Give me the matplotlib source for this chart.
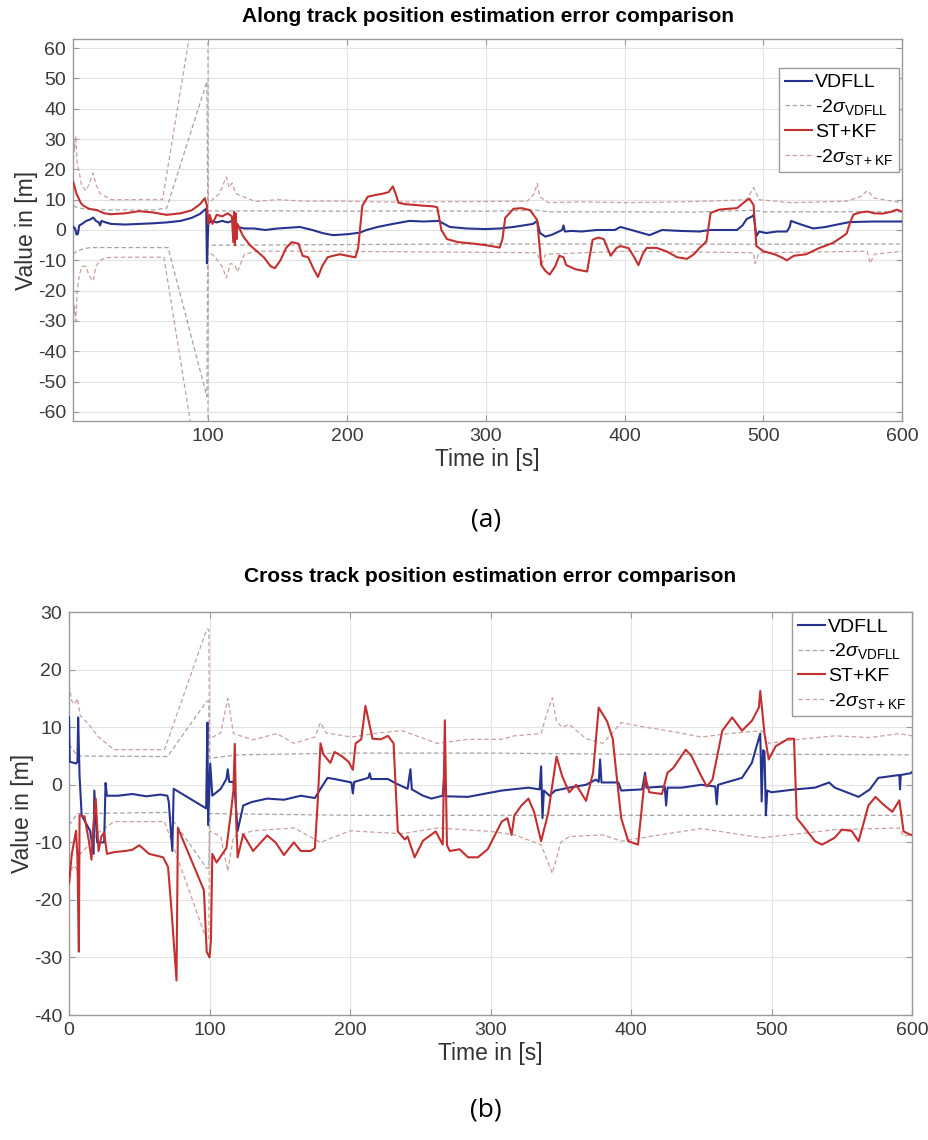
import matplotlib

matplotlib.use("Agg")
import matplotlib.pyplot as plt

# ---- Along track (a) ----
along_vdfll_t = [2.7, 4, 5, 6, 7, 9, 12, 15, 17, 19, 21, 22, 23, 26, 30, 40, 50, 60, 70, 80, 88, 94, 97, 98.5, 99, 100, 102, 106, 110, 114, 117, 121, 126, 133, 141, 150, 160, 166, 175, 183, 190, 200, 209, 214, 222, 233, 245, 255, 266, 270, 274, 286, 300, 310, 320, 334, 337, 339, 343, 348, 355, 356, 357, 362, 369, 380, 393, 397, 405, 418, 427, 440, 454, 461, 470, 481, 485, 488, 492, 493, 495, 497, 502, 510, 517, 519, 520, 526, 536, 545, 550, 562, 570, 580, 590, 600]
along_vdfll_v = [1, 0.5, -1.5, -1.3, 1.5, 2, 3, 3.5, 4.1, 3, 2.5, 1.5, 3, 2.5, 2, 1.8, 2, 2.2, 2.5, 3, 4, 5.3, 6.5, 7, -11, 2, 3, 2.5, 3, 2.5, 3, 1, 0.5, 0.5, 0, 0.5, 0.8, 1, 0, -1.1, -1.7, -1.4, -0.9, 0, 1, 2, 3, 2.8, 3, 2, 1, 0.5, 0.3, 0.5, 1, 2, 3, -1, -2.2, -1.5, 0, 1.5, -0.5, -0.3, -0.5, 0, 0, 1, 0, -1.7, 0, -0.3, -0.5, 0, 0, 0, 1.5, 3.6, 4.5, 5, -2, -0.5, -1, -0.5, -0.5, 1, 3, 2, 0.5, 1, 1.5, 2.6, 2.7, 2.8, 2.8, 2.8]

along_stkf_t = [2.7, 5, 8, 10, 14, 20, 25, 30, 40, 50, 60, 70, 80, 88, 94, 97.5, 99, 100, 101, 103, 106, 110, 114, 117, 118, 118.6, 119.2, 119.8, 120.4, 121, 125, 130, 135, 140, 145, 148, 152, 156, 160, 165, 168, 172, 176, 179, 182, 186, 190, 195, 200, 206, 208, 211, 215, 220, 226, 230, 233, 235, 237, 242, 248, 255, 262, 265, 268, 272, 280, 291, 300, 310, 312, 314, 320, 326, 332, 337, 340, 343, 346, 350, 353, 356, 358, 365, 373, 377, 381, 385, 390, 394, 397, 403, 407, 410, 413, 416, 423, 430, 438, 445, 450, 454, 459, 462, 468, 475, 481, 488, 490, 493, 495, 500, 508, 513, 517, 522, 531, 540, 550, 556, 560, 563, 565, 570, 575, 580, 586, 592, 596, 600]
along_stkf_v = [15.7, 12, 9, 8, 7, 6.5, 5.5, 5.2, 5.5, 6.2, 5.8, 5, 5.5, 6.5, 8.5, 10.5, 8, 2, 5, 2, 5, 4.5, 5.5, 4.5, -4, 6, -5, 5.5, -3, 2, -2, -5, -7, -9, -12, -12.6, -10, -6, -4, -4.5, -8.5, -9, -13, -15.5, -12, -9, -8.5, -8, -8.5, -9, -6, 8, 11, 11.5, 12, 12.5, 14.4, 12, 9, 8.5, 8.3, 8, 7.8, 7.5, 0, -3, -4, -4.5, -5, -5.8, -3, 4, 7, 7.2, 6.5, 3.3, -11.6, -13.5, -14.7, -12, -8.5, -9, -11.6, -13, -13.7, -3.2, -2.5, -3, -8.5, -6, -5.3, -6, -9, -11.6, -8, -5.9, -5.9, -7, -9, -9.5, -8, -5.9, -3.8, 5.6, 6.7, 7, 7.2, 9.8, 10.3, 8.2, -5.3, -7, -8, -9, -10, -8.5, -8, -6, -4.3, -2.5, -1.2, 3, 5.1, 5.8, 6.1, 5.5, 5.4, 6, 6.7, 6.1]

along_sig_vdfll_up_t = [2.7, 5, 10, 20, 40, 60, 70, 99, 99.6, 120, 150, 200, 250, 300, 337, 345, 400, 450, 493, 500, 550, 600]
along_sig_vdfll_up_v = [8, 7.5, 7, 6.7, 6.6, 6.6, 7.2, 49, 6.3, 6.3, 6.3, 6.2, 6.3, 6.2, 6.5, 6, 6, 5.9, 6.5, 6, 6, 6]
along_sig_vdfll_lo_t = [2.7, 5, 10, 15, 40, 71, 99, 99.6, 120, 200, 300, 400, 500, 600]
along_sig_vdfll_lo_v = [-8, -7, -6.2, -5.8, -5.8, -5.8, -55, -5, -5, -4.8, -4.6, -4.6, -4.7, -4.6]

along_sig_stkf_up_t = [2.7, 3.5, 4.5, 5.5, 7, 8.5, 10, 12, 14, 17, 19, 22, 26, 30, 50, 67, 86, 99.5, 100, 103, 108, 113, 115, 117, 120, 125, 134, 150, 170, 200, 230, 260, 300, 330, 335, 337, 339, 345, 370, 400, 430, 460, 488, 493, 497, 520, 560, 570, 575, 580, 600]
along_sig_stkf_up_v = [32, 26, 31, 22, 19, 15, 14, 13, 15, 18.8, 15, 12, 11, 10, 10, 10, 63, 115, 9, 10, 12, 17.5, 14, 15.5, 12, 11, 9.4, 10, 9.5, 9.5, 9.2, 9.3, 9.4, 9.5, 12, 15.3, 11, 9, 9.3, 9, 9.2, 9.5, 10, 14, 10, 9, 9.5, 11, 13, 10.5, 9]
along_sig_stkf_lo_t = [2.7, 3.5, 4.5, 5.5, 7, 9, 12, 14, 17, 19, 22, 26, 30, 60, 68, 87, 99.5, 100, 105, 110, 113, 116, 119, 121, 126, 135, 170, 250, 337, 340, 343, 400, 493, 494, 497, 575, 577, 580, 600]
along_sig_stkf_lo_v = [-30, -25, -30, -20, -15, -12, -12, -15, -16.8, -12, -10, -9.2, -9, -9, -9, -63, -115, -7, -9, -12, -15.8, -11, -11.6, -13.8, -8, -7, -7, -7.2, -7.5, -12, -8, -7, -7.5, -11, -7.5, -7, -11, -8, -7]

# ---- Cross track (b) ----
cross_vdfll_t = [0, 0.5, 5, 6, 6.5, 7.5, 9, 15, 17.5, 18, 20, 25, 26, 27, 35, 45, 55, 65, 70, 71, 73.5, 74.5, 97.6, 98.5, 99, 100.5, 102, 108, 112, 113, 114, 117, 118, 120, 124, 130, 141, 153, 165, 175, 179, 184, 189, 201, 202, 203, 213, 214, 215, 227, 233, 241, 243, 244, 252, 258, 266, 267, 268, 284, 308, 327, 335, 336, 337, 338, 342, 346, 356, 368, 375, 377, 378, 379, 391, 393, 408, 410, 411, 424, 425, 426, 436, 450, 460, 461, 462, 469, 479, 486, 492, 493, 494, 495, 496, 497, 500, 517, 531, 541, 545, 562, 570, 576, 591, 591.5, 592, 599, 600]
cross_vdfll_v = [11.7, 4, 3.7, 4, 11.7, 1.5, -5.3, -8, -12, -1, -10, -10, 0.3, -1.9, -1.9, -1.6, -2, -1.7, -1.9, -3, -11.5, -0.7, -4.1, 10.8, -7, 3.7, -1.9, -0.7, 1, 2.7, 0.5, 0.5, -1, -8, -3.6, -3, -2.4, -2.6, -1.9, -2.3, -0.7, 1.2, 1, 0.4, -1.5, 0.5, 1.2, 2, 1, 1, 0.2, -0.7, 2.7, -0.8, -1.9, -2.4, -1.9, 1.5, -2, -2.1, -1, -0.5, -0.8, 3.2, -5.8, -1, -1.9, -1, -0.5, 0, 0.9, 0.5, 4.4, 0.4, 0.4, -1, -0.8, 2.1, -0.5, -0.3, -3.6, -0.5, -0.5, 0, -0.3, -3.4, 0, 0.5, 1.2, 3.8, 8.9, -2.9, 6, 5.8, -5.3, -1, -1.3, -0.8, -0.5, 0.4, -0.5, -2.1, -0.8, 1.2, 1.7, -0.8, 1.7, 2, 2.2]

cross_stkf_t = [0, 2, 5, 6, 7, 7.5, 11, 14, 16, 17, 19, 21, 23, 25, 27, 32, 40, 45, 50, 57, 67, 70.5, 73, 76.5, 77.5, 96, 98, 100, 101, 102, 105, 112, 115, 117, 118, 119, 120, 124, 131, 141, 147, 153, 160, 165, 172, 175, 177, 179, 181, 186, 189, 194, 199, 202, 204, 208, 211, 216, 222, 227, 231, 234, 239, 241, 246, 252, 261, 266, 267.5, 269, 271, 278, 284, 291, 298, 308, 312, 315, 317, 322, 327, 331, 336, 341, 347, 351, 356, 361, 368, 373, 377, 383, 387, 390, 393, 398, 405, 410, 413, 422, 426, 430, 439, 443, 450, 454, 458, 465, 472, 479, 486, 491, 492, 495, 498, 503, 512, 516, 518, 522, 531, 536, 545, 550, 557, 562, 569, 574, 579, 586, 591, 594, 599, 600]
cross_stkf_v = [-17.1, -12, -8, -12.7, -29, -5.3, -5.5, -9.6, -13, -8, -2.4, -11.5, -9, -8.3, -12, -11.7, -11.5, -11.3, -10.5, -12, -12.6, -14.3, -22, -34, -7.5, -18.3, -29, -30, -27, -12, -13.5, -11, -5.3, -1, 7.1, -6.5, -12.6, -8.6, -11.5, -8.8, -10, -12.2, -10, -11.5, -11.5, -11, -3, 7.2, 5.3, 3.8, 5.7, 5, 4, 2.6, 7.2, 7.9, 13.7, 8, 7.9, 8.5, 7.2, -8.1, -9.5, -9, -12.6, -9.7, -8.1, -10.4, 11.2, -10.5, -11.5, -11.2, -12.6, -12.6, -11.2, -6.4, -5.8, -8.7, -5.3, -3.6, -2.4, -4.7, -9.8, -5, 4.9, 1.5, -1.3, 0, -2.8, 2.1, 13.4, 11, 8, 1, -5.8, -9.8, -10.4, 1.5, -1.3, -1.6, 2.1, 2.9, 6.1, 5, 1.5, -0.3, 0.9, 9.4, 11.7, 9.4, 11.1, 13.4, 16.3, 8.9, 4.4, 6.7, 8, 8, -5.8, -7, -9.8, -10.4, -9.2, -7.8, -8, -9.8, -3.6, -2.1, -3.3, -4.7, -2.7, -8.1, -8.7, -8.7]

cross_sig_vdfll_up_t = [0, 6, 70, 98, 99.5, 100, 120, 200, 300, 400, 500, 600]
cross_sig_vdfll_up_v = [7, 5, 4.9, 14.5, 14.5, 4.6, 5.2, 5.5, 5.5, 5.3, 5.3, 5.2]
cross_sig_vdfll_lo_t = [0, 6, 70, 98, 99.5, 100, 200, 300, 400, 500, 600]
cross_sig_vdfll_lo_v = [-7, -5, -4.8, -14.5, -14.5, -5, -5.3, -5.3, -5.3, -5.3, -5.3]

cross_sig_stkf_up_t = [0, 2, 4, 6, 8, 14, 21, 32, 68, 98, 99.5, 100, 108, 113, 117, 131, 148, 160, 175, 179, 183, 201, 220, 237, 262, 284, 308, 317, 336, 340, 344, 347, 351, 356, 368, 380, 393, 410, 426, 450, 470, 493, 498, 520, 545, 570, 591, 600]
cross_sig_stkf_up_v = [17.3, 14.5, 14, 15, 12, 10.5, 8.3, 6.1, 6.1, 27, 27, 8, 9, 15, 8.9, 7.8, 8.9, 7.2, 8.3, 10.8, 9, 8.3, 9, 9.4, 7.2, 7.9, 7.9, 8.5, 8.9, 12.3, 15.1, 11, 10, 10.5, 8, 7.2, 10.8, 10, 9.4, 8.3, 8.9, 9.4, 7.2, 7.9, 8.5, 8.2, 8.9, 8.5]
cross_sig_stkf_lo_t = [0, 2, 4, 6, 8, 14, 21, 32, 68, 98, 99.5, 100, 108, 113, 117, 131, 160, 179, 200, 237, 262, 300, 317, 336, 344, 350, 356, 380, 393, 426, 450, 493, 520, 545, 591, 594, 600]
cross_sig_stkf_lo_v = [-17.3, -14.5, -14, -15, -12, -10.5, -8.3, -6.4, -6.4, -27, -27, -8, -9, -15, -9, -8, -7.5, -10, -8, -8.5, -7.5, -8.1, -8.7, -10.4, -15.4, -10, -9, -8.7, -9.8, -8.5, -7.6, -9.2, -8.5, -7.8, -7.5, -9, -8.5]

BLUE = "#26348f"
RED = "#c42f2f"
GRAY = "#a3a3a3"
PINK = "#c9a0a0"
DASH = (0, (3.5, 2.2))

plt.rcParams["font.family"] = ["Liberation Sans", "DejaVu Sans"]
plt.rcParams["mathtext.fontset"] = "custom"
plt.rcParams["mathtext.rm"] = "Liberation Sans"
plt.rcParams["mathtext.it"] = "Liberation Sans:italic"
plt.rcParams["axes.unicode_minus"] = False


def draw_panel(ax, vd_t, vd_v, vsu_t, vsu_v, vsl_t, vsl_v, st_t, st_v, ssu_t, ssu_v, ssl_t, ssl_v):
    ax.plot(vd_t, vd_v, color=BLUE, lw=1.5, label="VDFLL", zorder=3)
    ax.plot(vsu_t, vsu_v, color=GRAY, lw=0.9, ls=DASH, label=r"-2$\sigma_{\mathrm{VDFLL}}$", zorder=2)
    ax.plot(vsl_t, vsl_v, color=GRAY, lw=0.9, ls=DASH, zorder=2)
    ax.plot(st_t, st_v, color=RED, lw=1.5, label="ST+KF", zorder=4)
    ax.plot(ssu_t, ssu_v, color=PINK, lw=0.9, ls=DASH, label=r"-2$\sigma_{\mathrm{ST+KF}}$", zorder=2)
    ax.plot(ssl_t, ssl_v, color=PINK, lw=0.9, ls=DASH, zorder=2)
    ax.grid(True, color="#e3e3e3", lw=0.8)
    ax.set_axisbelow(True)
    ax.tick_params(direction="in", top=True, right=True, labelsize=14, colors="#999999",
                   labelcolor="#3a3a3a", length=4, pad=5)
    for side in ax.spines.values():
        side.set_color("#9a9a9a")
        side.set_linewidth(1.0)
    ax.set_xlabel("Time in [s]", fontsize=16.5, color="#333333", labelpad=2)
    ax.set_ylabel("Value in [m]", fontsize=16.5, color="#333333", labelpad=0)


def add_legend(ax, anchor):
    leg = ax.legend(loc="upper right", bbox_to_anchor=anchor, fontsize=14,
                    handlelength=1.4, handletextpad=0.15, labelspacing=0.3,
                    borderpad=0.3, borderaxespad=0.0, fancybox=False, framealpha=1)
    leg.get_frame().set_edgecolor("#9a9a9a")


def main() -> None:
    fig = plt.figure(figsize=(9.29, 11.4), dpi=100)

    ax1 = fig.add_axes([0.0786, 0.6307, 0.8924, 0.3351])
    draw_panel(ax1, along_vdfll_t, along_vdfll_v, along_sig_vdfll_up_t, along_sig_vdfll_up_v,
               along_sig_vdfll_lo_t, along_sig_vdfll_lo_v, along_stkf_t, along_stkf_v,
               along_sig_stkf_up_t, along_sig_stkf_up_v, along_sig_stkf_lo_t, along_sig_stkf_lo_v)
    ax1.set_xlim(2.5, 600)
    ax1.set_ylim(-63, 63)
    ax1.set_xticks(range(100, 601, 100))
    ax1.set_yticks(range(-60, 61, 10))
    ax1.set_title("Along track position estimation error comparison", fontsize=15,
                  fontweight="bold", pad=12)
    add_legend(ax1, (0.9964, 0.924))

    ax2 = fig.add_axes([0.0743, 0.1096, 0.9074, 0.3535])
    draw_panel(ax2, cross_vdfll_t, cross_vdfll_v, cross_sig_vdfll_up_t, cross_sig_vdfll_up_v,
               cross_sig_vdfll_lo_t, cross_sig_vdfll_lo_v, cross_stkf_t, cross_stkf_v,
               cross_sig_stkf_up_t, cross_sig_stkf_up_v, cross_sig_stkf_lo_t, cross_sig_stkf_lo_v)
    ax2.set_xlim(0, 600)
    ax2.set_ylim(-40, 30)
    ax2.set_xticks(range(0, 601, 100))
    ax2.set_yticks(range(-40, 31, 10))
    ax2.set_title("Cross track position estimation error comparison", fontsize=15,
                  fontweight="bold", pad=22)
    add_legend(ax2, (1.0, 1.0))

    fig.text(0.523, 0.544, "(a)", ha="center", va="center", fontsize=19, family="Open Sans")
    fig.text(0.523, 0.026, "(b)", ha="center", va="center", fontsize=19, family="Open Sans")

    fig.savefig("out.png", dpi=100)


if __name__ == "__main__":
    main()
